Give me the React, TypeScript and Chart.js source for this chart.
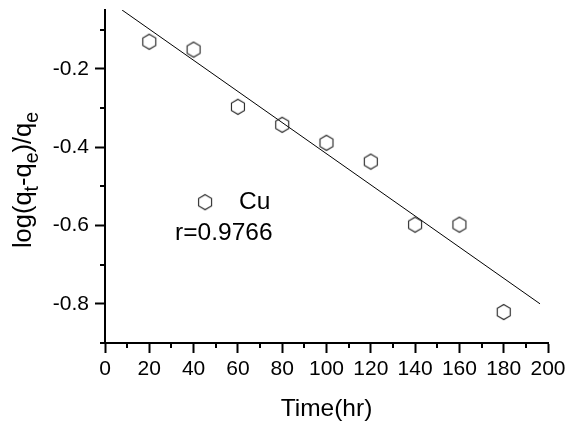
import React, { useEffect, useRef } from 'react';
import { Chart, registerables } from 'chart.js';

Chart.register(...registerables);

const timeHr = [20, 40, 60, 80, 100, 120, 140, 160, 180];
const logValues = [-0.131, -0.151, -0.297, -0.343, -0.389, -0.437, -0.598, -0.598, -0.821];
const fitX = [7.7, 196.4];
const fitY = [-0.05, -0.8];
const xTicks = [0, 10, 20, 30, 40, 50, 60, 70, 80, 90, 100, 110, 120, 130, 140, 150, 160, 170, 180, 190, 200];
const xMajor = [0, 20, 40, 60, 80, 100, 120, 140, 160, 180, 200];
const yTicks = [-0.9, -0.8, -0.7, -0.6, -0.5, -0.4, -0.3, -0.2, -0.1];
const yMajor = [-0.8, -0.6, -0.4, -0.2];
const seriesLabel = 'Cu';
const rLabel = 'r=0.9766';
const xTitle = 'Time(hr)';
const yTitleParts: [string, boolean][] = [
  ['log(q', false],
  ['t', true],
  ['-q', false],
  ['e', true],
  [')/q', false],
  ['e', true],
];

const FONT = "'Liberation Sans', Arial, sans-serif";
const isIn = (arr: number[], v: number) => arr.some((m) => Math.abs(m - v) < 1e-6);

function makeHexagon(size: number, r: number): HTMLCanvasElement {
  const c = document.createElement('canvas');
  c.width = size;
  c.height = size;
  const g = c.getContext('2d')!;
  g.strokeStyle = '#222';
  g.lineWidth = 1.1;
  g.beginPath();
  for (let i = 0; i < 6; i++) {
    const a = -Math.PI / 2 + (i * Math.PI) / 3;
    const px = size / 2 + r * Math.cos(a);
    const py = size / 2 + r * Math.sin(a);
    if (i === 0) g.moveTo(px, py);
    else g.lineTo(px, py);
  }
  g.closePath();
  g.stroke();
  return c;
}

export default function App() {
  const ref = useRef<HTMLCanvasElement>(null);

  useEffect(() => {
    const hex = makeHexagon(18, 7.5);

    const extras = {
      id: 'extras',
      afterDraw(chart: any) {
        const ctx = chart.ctx;
        const area = chart.chartArea;
        const xs = chart.scales.x;
        const ys = chart.scales.y;
        ctx.save();
        // minor ticks
        ctx.strokeStyle = '#000';
        ctx.lineWidth = 2;
        xTicks.filter((v) => !isIn(xMajor, v)).forEach((v) => {
          const px = Math.round(xs.getPixelForValue(v));
          ctx.beginPath();
          ctx.moveTo(px, area.bottom);
          ctx.lineTo(px, area.bottom + 5);
          ctx.stroke();
        });
        yTicks.filter((v) => !isIn(yMajor, v)).forEach((v) => {
          const py = Math.round(ys.getPixelForValue(v));
          ctx.beginPath();
          ctx.moveTo(area.left, py);
          ctx.lineTo(area.left - 5, py);
          ctx.stroke();
        });
        // legend
        const lx = area.left + (area.right - area.left) * 0.226;
        const ly = area.top + (area.bottom - area.top) * 0.577;
        ctx.drawImage(hex, lx - 9, ly - 9);
        ctx.fillStyle = '#000';
        ctx.font = `24.5px ${FONT}`;
        ctx.textBaseline = 'middle';
        ctx.textAlign = 'left';
        ctx.fillText(seriesLabel, lx + 34, ly);
        ctx.fillText(rLabel, lx - 30, ly + 31);
        // y title with subscripts
        const mainSize = 25.5;
        const subSize = 19.5;
        const widths = yTitleParts.map(([t, sub]) => {
          ctx.font = `${sub ? subSize : mainSize}px ${FONT}`;
          return ctx.measureText(t).width;
        });
        const total = widths.reduce((a, b) => a + b, 0);
        ctx.translate(26, 180);
        ctx.rotate(-Math.PI / 2);
        let cx = -total / 2;
        ctx.textBaseline = 'alphabetic';
        yTitleParts.forEach(([t, sub], i) => {
          ctx.font = `${sub ? subSize : mainSize}px ${FONT}`;
          ctx.fillText(t, cx, sub ? 12 : 5);
          cx += widths[i];
        });
        ctx.restore();
      },
    };

    const chart = new Chart(ref.current!, {
      type: 'scatter',
      data: {
        datasets: [
          {
            label: seriesLabel,
            data: timeHr.map((x, i) => ({ x, y: logValues[i] })),
            pointStyle: hex as any,
            pointRadius: 7,
            showLine: false,
          },
          {
            label: 'fit',
            data: fitX.map((x, i) => ({ x, y: fitY[i] })),
            showLine: true,
            borderColor: '#000',
            borderWidth: 1,
            pointRadius: 0,
          },
        ],
      },
      options: {
        animation: false,
        responsive: false,
        events: [],
        layout: { padding: { left: 0, top: 10, right: 18, bottom: 0 } },
        plugins: { legend: { display: false }, tooltip: { enabled: false } },
        scales: {
          x: {
            type: 'linear',
            min: 0,
            max: 200,
            afterBuildTicks: (s: any) => {
              s.ticks = xTicks.map((v) => ({ value: v }));
            },
            afterFit: (s: any) => {
              s.height = 83;
              s.paddingLeft = 0;
              s.paddingRight = 0;
            },
            border: { display: true, color: '#000', width: 2 },
            grid: {
              display: true,
              drawOnChartArea: false,
              drawTicks: true,
              tickLength: 10,
              tickWidth: 2,
              tickColor: (c: any) => (isIn(xMajor, c.tick.value) ? '#000' : 'rgba(0,0,0,0)'),
            },
            ticks: {
              autoSkip: false,
              maxRotation: 0,
              padding: 4,
              color: '#000',
              font: { family: FONT, size: 21 },
              callback: (v: any) => (isIn(xMajor, v) ? String(v) : ''),
            },
            title: {
              display: true,
              text: xTitle,
              color: '#000',
              font: { family: FONT, size: 24.5 },
              padding: { top: 0, bottom: 2 },
            },
          },
          y: {
            type: 'linear',
            min: -0.9,
            max: -0.05,
            afterBuildTicks: (s: any) => {
              s.ticks = yTicks.map((v) => ({ value: v }));
            },
            afterFit: (s: any) => {
              s.width = 105;
              s.paddingTop = 0;
              s.paddingBottom = 0;
            },
            border: { display: true, color: '#000', width: 2 },
            grid: {
              display: true,
              drawOnChartArea: false,
              drawTicks: true,
              tickLength: 10,
              tickWidth: 2,
              tickColor: (c: any) => (isIn(yMajor, c.tick.value) ? '#000' : 'rgba(0,0,0,0)'),
            },
            ticks: {
              autoSkip: false,
              padding: 6,
              color: '#000',
              font: { family: FONT, size: 21 },
              callback: (v: any) => (isIn(yMajor, v) ? Number(v).toFixed(1) : ''),
            },
          },
        },
      },
      plugins: [extras],
    } as any);
    return () => chart.destroy();
  }, []);

  return (
    <div style={{ position: 'absolute', left: 0, top: 0, width: 566, height: 426, background: '#fff' }}>
      <canvas ref={ref} width={566} height={426} style={{ display: 'block' }} />
    </div>
  );
}
